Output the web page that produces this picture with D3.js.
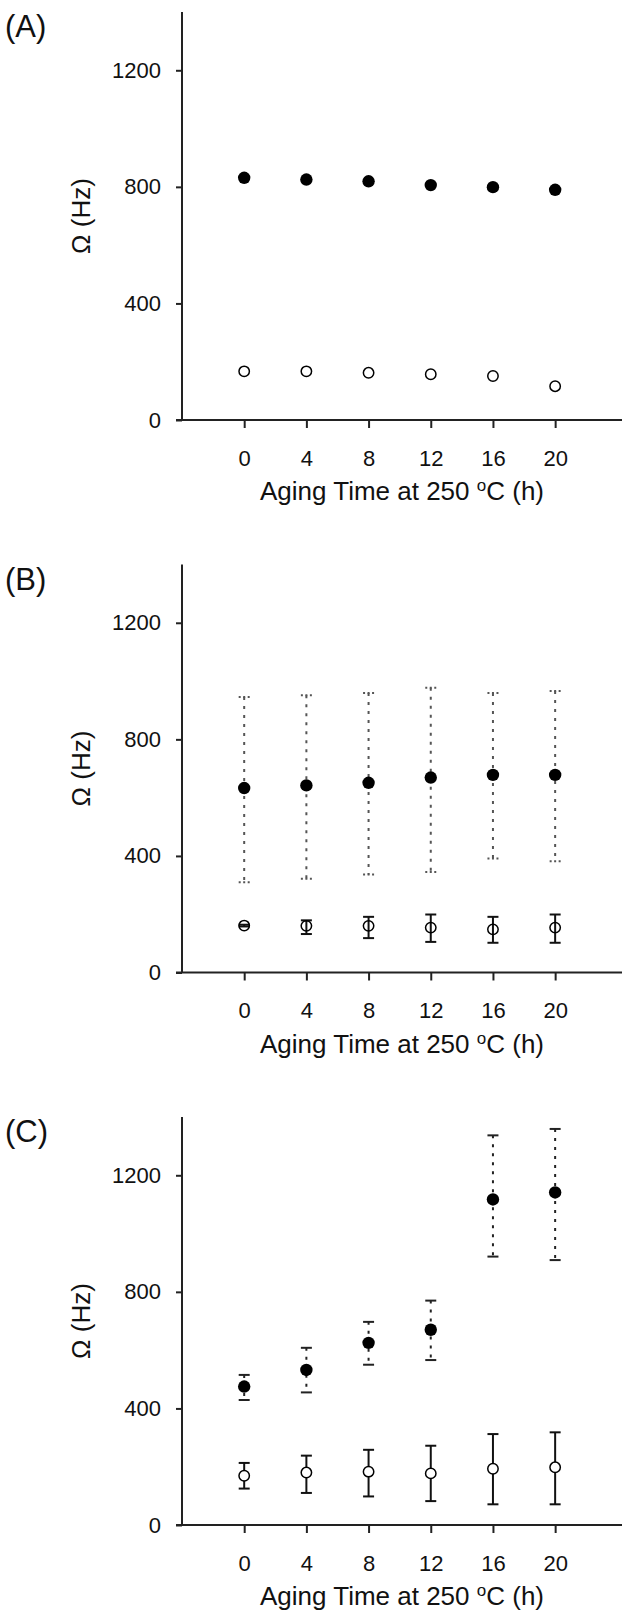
<!DOCTYPE html>
<html>
<head>
<meta charset="utf-8">
<script src="https://cdn.jsdelivr.net/npm/d3@7"></script>
<style>
  body { margin: 0; background: #fff; }
  text { font-family: "Liberation Sans", Arial, sans-serif; fill: #111; }
</style>
</head>
<body>
<div id="chart"></div>
<script>
// aging times (h)
const hours = [0, 4, 8, 12, 16, 20];
const yTicks = [0, 400, 800, 1200];
const panelLabels = ["(A)", "(B)", "(C)"];

// panel A
const filledA = [831, 825, 819, 806, 799, 790];
const openA = [167, 167, 162, 157, 151, 116];

// panel B
const filledB = [633, 642, 651, 669, 678, 678];
const filledBHi = [945, 951, 959, 977, 959, 966];
const filledBLo = [310, 322, 336, 345, 391, 382];
const openB = [161, 160, 160, 154, 148, 154];
const openBHi = [164, 179, 191, 199, 191, 199];
const openBLo = [158, 132, 118, 105, 102, 102];

// panel C
const filledC = [475, 532, 625, 670, 1117, 1141];
const filledCHi = [515, 608, 697, 770, 1337, 1359];
const filledCLo = [429, 455, 550, 566, 921, 909];
const openC = [169, 180, 183, 177, 193, 198];
const openCHi = [213, 238, 258, 272, 312, 318];
const openCLo = [125, 110, 98, 82, 71, 71];

const panels = [
  { label: panelLabels[0], filled: filledA, open: openA },
  { label: panelLabels[1], filled: filledB, fHi: filledBHi, fLo: filledBLo,
    open: openB, oHi: openBHi, oLo: openBLo, dashedCaps: true, dotColor: "#555", openFill: "none" },
  { label: panelLabels[2], filled: filledC, fHi: filledCHi, fLo: filledCLo,
    open: openC, oHi: openCHi, oLo: openCLo, dashedCaps: false, dotColor: "#222", openFill: "#fff" }
];

const W = 622, H = 1614;
const svg = d3.select("#chart").append("svg")
  .attr("width", W).attr("height", H);

const x = d3.scaleLinear().domain([-4, 24.3]).range([182, 622]);

panels.forEach(function (p, i) {
  const top = 12 + i * 552.5;
  const y = d3.scaleLinear().domain([0, 1400]).range([top + 408, top]);
  const g = svg.append("g");

  // axes lines
  g.append("line")
    .attr("x1", x(-4)).attr("x2", x(-4))
    .attr("y1", y(1400)).attr("y2", y(0))
    .attr("stroke", "#222").attr("stroke-width", 2);
  g.append("line")
    .attr("x1", x(-4) - 6).attr("x2", W)
    .attr("y1", y(0)).attr("y2", y(0))
    .attr("stroke", "#222").attr("stroke-width", 2);

  const yAxis = g.append("g")
    .attr("transform", `translate(${x(-4)},0)`)
    .call(d3.axisLeft(y).tickValues(yTicks).tickSize(6).tickPadding(15).tickFormat(d3.format("d")));
  yAxis.select(".domain").remove();

  const xAxis = g.append("g")
    .attr("transform", `translate(0,${y(0)})`)
    .call(d3.axisBottom(x).tickValues(hours).tickSize(8).tickPadding(22));
  xAxis.select(".domain").remove();

  g.selectAll(".tick line").attr("stroke", "#222").attr("stroke-width", 2);
  g.selectAll(".tick text").style("font-size", "22px")
    .style("font-family", "'Liberation Sans', Arial, sans-serif").attr("fill", "#111");

  // panel label
  g.append("text")
    .attr("x", 5).attr("y", top + 25)
    .style("font-size", "31px")
    .text(p.label);

  // y title
  g.append("text")
    .attr("transform", `translate(90,${y(700)}) rotate(-90)`)
    .attr("text-anchor", "middle")
    .style("font-size", "26px")
    .text("\u03A9 (Hz)");

  // x title
  const xt = g.append("text")
    .attr("x", (x(-4) + W) / 2).attr("y", y(0) + 80)
    .attr("text-anchor", "middle")
    .style("font-size", "26px");
  xt.append("tspan").text("Aging Time at 250 ");
  xt.append("tspan").attr("dy", -9).style("font-size", "17px").text("o");
  xt.append("tspan").attr("dy", 9).text("C (h)");

  // filled error bars (dotted)
  if (p.fHi) {
    const fe = g.append("g");
    hours.forEach(function (h, j) {
      fe.append("line")
        .attr("x1", x(h)).attr("x2", x(h))
        .attr("y1", y(p.fHi[j])).attr("y2", y(p.fLo[j]))
        .attr("stroke", p.dotColor).attr("stroke-width", 2)
        .attr("stroke-dasharray", "3,6");
      [p.fHi[j], p.fLo[j]].forEach(function (v) {
        fe.append("line")
          .attr("x1", x(h) - 5.5).attr("x2", x(h) + 5.5)
          .attr("y1", y(v)).attr("y2", y(v))
          .attr("stroke", p.dotColor).attr("stroke-width", 2)
          .attr("stroke-dasharray", p.dashedCaps ? "2,2.5" : null);
      });
    });
  }

  // open error bars (solid)
  if (p.oHi) {
    const oe = g.append("g");
    hours.forEach(function (h, j) {
      oe.append("line")
        .attr("x1", x(h)).attr("x2", x(h))
        .attr("y1", y(p.oHi[j])).attr("y2", y(p.oLo[j]))
        .attr("stroke", "#111").attr("stroke-width", 2);
      [p.oHi[j], p.oLo[j]].forEach(function (v) {
        oe.append("line")
          .attr("x1", x(h) - 5.5).attr("x2", x(h) + 5.5)
          .attr("y1", y(v)).attr("y2", y(v))
          .attr("stroke", "#111").attr("stroke-width", 2);
      });
    });
  }

  // filled markers
  g.selectAll(".filled")
    .data(p.filled)
    .join("circle")
    .attr("cx", (d, j) => x(hours[j]))
    .attr("cy", d => y(d))
    .attr("r", 6.2)
    .attr("fill", "#000");

  // open markers
  g.selectAll(".open")
    .data(p.open)
    .join("circle")
    .attr("cx", (d, j) => x(hours[j]))
    .attr("cy", d => y(d))
    .attr("r", 5.2)
    .attr("fill", p.openFill || "#fff")
    .attr("stroke", "#000")
    .attr("stroke-width", 1.5);
});
</script>
</body>
</html>
